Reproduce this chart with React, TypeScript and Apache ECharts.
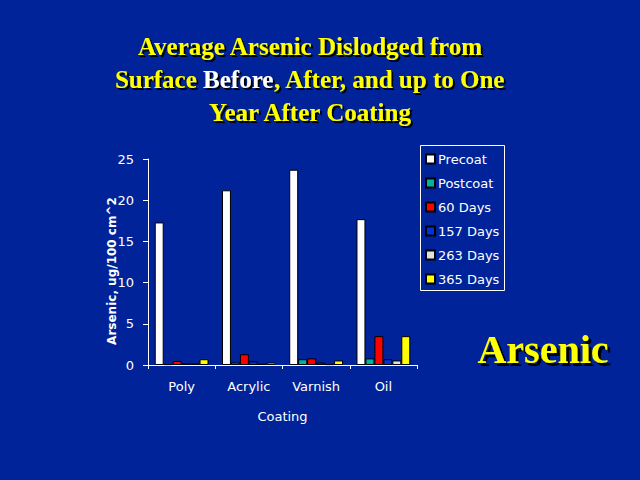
import React, { useEffect, useRef } from "react";
import * as echarts from "echarts";

const categories = ["Poly", "Acrylic", "Varnish", "Oil"];
const seriesNames = ["Precoat", "Postcoat", "60 Days", "157 Days", "263 Days", "365 Days"];
const precoat = [17.3, 21.2, 23.7, 17.7];
const postcoat = [0.1, 0.3, 0.7, 0.8];
const days60 = [0.5, 1.3, 0.8, 3.5];
const days157 = [0.2, 0.45, 0.3, 0.7];
const days263 = [0.2, 0.15, 0.1, 0.55];
const days365 = [0.7, 0.3, 0.55, 3.5];
const seriesValues = [precoat, postcoat, days60, days157, days263, days365];
const seriesColors = ["#FFFFFF", "#00B4A0", "#FF0000", "#0033DD", "#E0E0E0", "#FFFF00"];

const titleLines = "Average Arsenic Dislodged from\nSurface {w|Before}, After, and up to One\nYear After Coating";
const sideLabel = "Arsenic";
const yAxisName = "Arsenic, ug/100 cm^2";

const BG = "#002399";
const SANS = "'DejaVu Sans', sans-serif";
const SERIF = "'Liberation Serif', 'Times New Roman', serif";

const shadow = { textShadowColor: "#000000", textShadowOffsetX: 2, textShadowOffsetY: 2, textShadowBlur: 1 };
const titleFont = { fontFamily: SERIF, fontWeight: "bold", fontSize: 25, lineHeight: 33, ...shadow };

export default function App() {
  const ref = useRef<HTMLDivElement>(null);
  useEffect(() => {
    if (!ref.current) return;
    const chart = echarts.init(ref.current, null, { renderer: "svg" });
    chart.setOption({
      animation: false,
      backgroundColor: BG,
      title: {
        text: titleLines,
        left: 305,
        top: 25,
        textAlign: "center",
        textStyle: {
          ...titleFont,
          color: "#FFFF00",
          rich: { w: { ...titleFont, color: "#FFFFFF" } },
        },
      },
      legend: {
        orient: "vertical",
        left: 425,
        top: 152,
        itemWidth: 9,
        itemHeight: 9,
        itemGap: 10,
        padding: 0,
        icon: "rect",
        data: seriesNames,
        textStyle: { color: "#FFFFFF", fontFamily: SANS, fontSize: 13, lineHeight: 14, padding: [0, 0, 0, -2] },
      },
      grid: { left: 148, right: 223, top: 159, bottom: 115, containLabel: false },
      xAxis: {
        type: "category",
        data: categories,
        name: "Coating",
        nameLocation: "middle",
        nameGap: 45,
        nameTextStyle: { color: "#FFFFFF", fontFamily: SANS, fontSize: 13 },
        axisLine: { lineStyle: { color: "#FFFFFF", width: 1 } },
        axisTick: { show: true, length: 4, inside: false, lineStyle: { color: "#FFFFFF" } },
        axisLabel: { color: "#FFFFFF", fontFamily: SANS, fontSize: 13, margin: 15 },
        splitLine: { show: false },
      },
      yAxis: {
        type: "value",
        min: 0,
        max: 25,
        interval: 5,
        axisLine: { show: true, lineStyle: { color: "#FFFFFF", width: 1 } },
        axisTick: { show: true, length: 5, inside: false, lineStyle: { color: "#FFFFFF" } },
        axisLabel: { color: "#FFFFFF", fontFamily: SANS, fontSize: 13, margin: 14 },
        splitLine: { show: false },
      },
      graphic: [
        {
          type: "rect",
          shape: { x: 420.5, y: 145.5, width: 84, height: 145 },
          style: { fill: "none", stroke: "#FFFFFF", lineWidth: 1 },
          z: 100,
        },
        {
          type: "text",
          x: 112,
          y: 271,
          rotation: Math.PI / 2,
          style: {
            text: yAxisName,
            fill: "#FFFFFF",
            font: "bold 12px " + SANS,
            textAlign: "center",
            textVerticalAlign: "middle",
          },
        },
        {
          type: "text",
          x: 543,
          y: 349,
          style: {
            text: sideLabel,
            fill: "#FFFF00",
            font: "bold 40px " + SERIF,
            textAlign: "center",
            textVerticalAlign: "middle",
            textShadowColor: "#000000",
            textShadowOffsetX: 3,
            textShadowOffsetY: 3,
            textShadowBlur: 1,
          },
        },
      ],
      series: seriesNames.map((name, i) => ({
        name,
        type: "bar",
        data: seriesValues[i],
        barGap: "0%",
        barCategoryGap: "20%",
        itemStyle: { color: seriesColors[i], borderColor: "#000000", borderWidth: 1 },
      })),
    });
    return () => chart.dispose();
  }, []);
  return <div ref={ref} style={{ width: 640, height: 480, position: "fixed", left: 0, top: 0 }} />;
}
